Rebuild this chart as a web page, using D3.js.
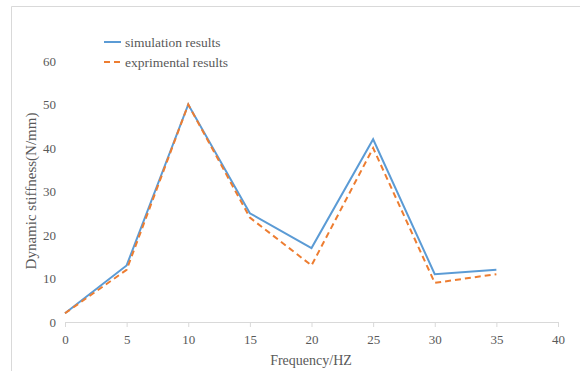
<!DOCTYPE html>
<html>
<head>
<meta charset="utf-8">
<script src="https://cdn.jsdelivr.net/npm/d3@7"></script>
<style>
  body { margin: 0; background: #fff; }
  text { font-family: "Liberation Serif", "Times New Roman", serif; }
</style>
</head>
<body>
<div id="chart"></div>
<script>
// chart data
var frequency = [0, 5, 10, 15, 20, 25, 30, 35];
var simulation = [2, 13, 50, 25, 17, 42, 11, 12];
var experimental = [2, 12, 50, 24, 13, 40, 9, 11];
var xTicks = [0, 5, 10, 15, 20, 25, 30, 35, 40];
var yTicks = [0, 10, 20, 30, 40, 50, 60];
var seriesNames = ["simulation results", "exprimental results"];

var Width = 580, Height = 371;
var Margin = {top: 61, right: 22, bottom: 49, left: 65};

var svg = d3.select("#chart")
  .append("svg")
  .attr("width", Width)
  .attr("height", Height);

// frame of the chart area
svg.append("path")
  .attr("d", "M11.5," + Height + "V6.5H" + Width)
  .style("fill", "none")
  .style("stroke", "#d9d9d9");

var g = svg.append("g")
  .attr("transform", "translate(" + Margin.left + "," + Margin.top + ")");

var w = 558 - Margin.left, h = 322 - Margin.top;

var xScale = d3.scaleLinear().domain([0, 40]).range([0, w]);
var yScale = d3.scaleLinear().domain([0, 60]).range([h, 0]);

// x axis
var xAxis = g.append("g")
  .attr("transform", "translate(0," + h + ")")
  .call(d3.axisBottom(xScale).tickValues(xTicks).tickSize(5).tickSizeOuter(0));
xAxis.select(".domain").style("stroke", "#d9d9d9");
xAxis.selectAll(".tick line").style("stroke", "#d9d9d9");
xAxis.selectAll(".tick text")
  .attr("dy", "1.1em")
  .style("font-family", "Liberation Serif")
  .style("font-size", "13px")
  .style("fill", "#595959");

// y axis (labels only)
var yAxis = g.append("g")
  .call(d3.axisLeft(yScale).tickValues(yTicks).tickSize(0).tickPadding(9));
yAxis.select(".domain").remove();
yAxis.selectAll(".tick text")
  .style("font-family", "Liberation Serif")
  .style("font-size", "13px")
  .style("fill", "#595959");

// lines
var line = d3.line()
  .x(function(d, i) { return xScale(frequency[i]); })
  .y(function(d) { return yScale(d); });

g.append("path")
  .datum(simulation)
  .attr("d", line)
  .style("fill", "none")
  .style("stroke", "#5b9bd5")
  .style("stroke-width", 2);

g.append("path")
  .datum(experimental)
  .attr("d", line)
  .style("fill", "none")
  .style("stroke", "#ed7d31")
  .style("stroke-width", 2)
  .style("stroke-dasharray", "6,4");

// legend
var legend = svg.append("g");
var legendColors = ["#5b9bd5", "#ed7d31"];
var legendDash = ["none", "6,4"];
seriesNames.forEach(function(name, i) {
  var yy = 42 + i * 20;
  legend.append("line")
    .attr("x1", 104).attr("x2", 121)
    .attr("y1", yy).attr("y2", yy)
    .style("stroke", legendColors[i])
    .style("stroke-width", 2)
    .style("stroke-dasharray", legendDash[i]);
  legend.append("text")
    .attr("x", 125).attr("y", yy)
    .attr("dy", "0.35em")
    .style("font-size", "13.5px")
    .style("fill", "#595959")
    .text(name);
});

// axis titles
svg.append("text")
  .attr("transform", "translate(36,191) rotate(-90)")
  .style("text-anchor", "middle")
  .style("font-size", "15px")
  .style("fill", "#595959")
  .text("Dynamic stiffness(N/mm)");

svg.append("text")
  .attr("x", 311)
  .attr("y", 365)
  .style("text-anchor", "middle")
  .style("font-size", "14px")
  .style("fill", "#595959")
  .text("Frequency/HZ");
</script>
</body>
</html>
